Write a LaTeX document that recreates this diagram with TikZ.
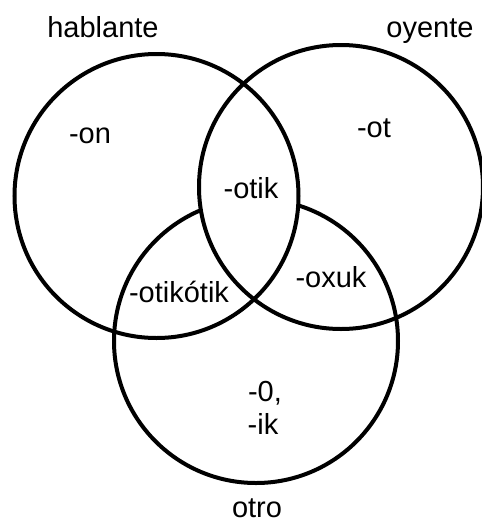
\documentclass[tikz,border=0pt]{standalone}
\usepackage{fontspec}
\setmainfont{Liberation Sans}
\begin{document}
\begin{tikzpicture}[x=1pt,y=-1pt,
  venn/.style={draw=black,line width=4pt,circle,minimum size=284pt,inner sep=0pt},
  lbl/.style={anchor=base,inner sep=0pt,font=\fontsize{29pt}{35pt}\selectfont}]
\useasboundingbox (0,0) rectangle (482,523);
\coordinate (chab) at (156.5,196);
\coordinate (coye) at (341,187);
\coordinate (cotr) at (256,341);
\node[venn] (otr) at (cotr) {};
\begin{scope}
  \clip (chab) circle[radius=142pt];
  \fill[white] (coye) circle[radius=142pt];
\end{scope}
\node[venn] (hab) at (chab) {};
\node[venn] (oye) at (coye) {};
\node[lbl] (thab) at (103,37) {hablante};
\node[lbl] (toye) at (430,37) {oyente};
\node[lbl] (totr) at (257,517) {otro};
\node[lbl] (on) at (90,143) {-on};
\node[lbl] (ot) at (374,137) {-ot};
\node[lbl] (otik) at (251,198) {-otik};
\node[lbl] (otikotik) at (179,302) {-otikótik};
\node[lbl] (oxuk) at (331,287) {-oxuk};
\node[lbl] (cero) at (265,401) {-0,};
\node[lbl] (ik) at (263,434) {-ik};
\end{tikzpicture}
\end{document}
